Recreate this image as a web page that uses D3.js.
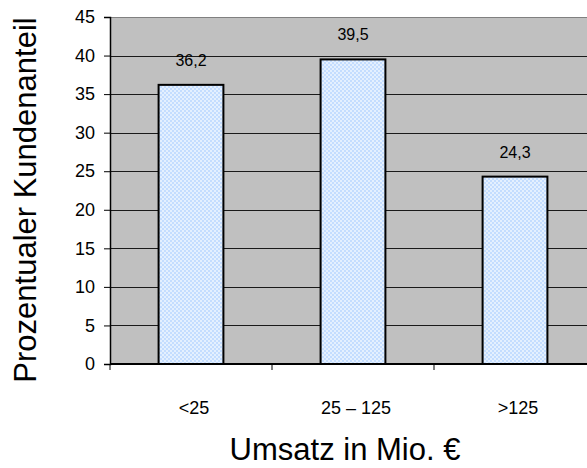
<!DOCTYPE html>
<html>
<head>
<meta charset="utf-8">
<script src="https://cdn.jsdelivr.net/npm/d3@7"></script>
<style>
  body { margin: 0; background: #fff; }
  svg { display: block; font-family: "Liberation Sans", Arial, sans-serif; }
</style>
</head>
<body>
<div id="chart"></div>
<script>
const categories = ['<25', '25 – 125', '>125'];
const shares = [36.2, 39.5, 24.3];
const shareLabels = ['36,2', '39,5', '24,3'];
const yTicks = [0, 5, 10, 15, 20, 25, 30, 35, 40, 45];

const width = 587;
const height = 468;
const plot = { left: 110, right: 596, top: 17, bottom: 364 };

const svg = d3.select('#chart')
  .append('svg')
  .attr('width', width)
  .attr('height', height);

const defs = svg.append('defs');
const pat = defs.append('pattern')
  .attr('id', 'dots')
  .attr('width', 4)
  .attr('height', 4)
  .attr('patternUnits', 'userSpaceOnUse');
pat.append('rect').attr('width', 4).attr('height', 4).attr('fill', '#c4ddff');
pat.append('rect').attr('width', 2).attr('height', 2).attr('fill', '#e4f0ff');
pat.append('rect').attr('x', 2).attr('y', 2).attr('width', 2).attr('height', 2).attr('fill', '#e4f0ff');

const x = d3.scaleBand()
  .domain(categories)
  .range([plot.left, plot.right])
  .paddingInner(0.6)
  .paddingOuter(0.3);

const y = d3.scaleLinear()
  .domain([0, 45])
  .range([plot.bottom, plot.top]);

// plot background
svg.append('rect')
  .attr('x', plot.left)
  .attr('y', plot.top)
  .attr('width', plot.right - plot.left)
  .attr('height', plot.bottom - plot.top)
  .attr('fill', '#c0c0c0');

// gridlines
svg.append('g')
  .selectAll('line')
  .data(yTicks.filter((d) => d > 0))
  .enter()
  .append('line')
  .attr('x1', plot.left)
  .attr('x2', plot.right)
  .attr('y1', (d) => Math.round(y(d)) + 0.5)
  .attr('y2', (d) => Math.round(y(d)) + 0.5)
  .attr('stroke', (d) => d === 45 ? '#808080' : '#1a1a1a')
  .attr('stroke-width', 1);

// bars
svg.append('g')
  .selectAll('rect')
  .data(shares)
  .enter()
  .append('rect')
  .attr('x', (d, i) => x(categories[i]))
  .attr('y', (d) => y(d))
  .attr('width', x.bandwidth())
  .attr('height', (d) => y(0) - y(d))
  .attr('fill', 'url(#dots)')
  .attr('stroke', '#000')
  .attr('stroke-width', 2);

// value labels
svg.append('g')
  .selectAll('text')
  .data(shares)
  .enter()
  .append('text')
  .attr('x', (d, i) => x(categories[i]) + x.bandwidth() / 2)
  .attr('y', (d) => y(d) - 19)
  .attr('text-anchor', 'middle')
  .attr('font-size', '16px')
  .attr('fill', '#000')
  .text((d, i) => shareLabels[i]);

// y axis
const yAxis = svg.append('g')
  .attr('transform', `translate(${plot.left},0)`)
  .call(d3.axisLeft(y).tickValues(yTicks).tickSize(6).tickPadding(9).tickFormat(d3.format('d')));
yAxis.select('.domain').attr('stroke', '#000').attr('stroke-width', 1.5);
yAxis.selectAll('.tick line').attr('stroke', '#000');
yAxis.selectAll('.tick text')
  .attr('font-size', '18px')
  .attr('font-family', '"Liberation Sans", Arial, sans-serif')
  .attr('fill', '#000');

// x axis line + boundary ticks
const xAxis = svg.append('g')
  .attr('transform', `translate(0,${plot.bottom})`);
xAxis.append('line')
  .attr('x1', plot.left)
  .attr('x2', plot.right)
  .attr('stroke', '#000')
  .attr('stroke-width', 2);
xAxis.selectAll('line.tick')
  .data(categories)
  .enter()
  .append('line')
  .attr('class', 'tick')
  .attr('x1', (d) => x(d) - x.step() * x.paddingOuter())
  .attr('x2', (d) => x(d) - x.step() * x.paddingOuter())
  .attr('y1', 0)
  .attr('y2', 6)
  .attr('stroke', '#000');
xAxis.selectAll('text')
  .data(categories)
  .enter()
  .append('text')
  .attr('x', (d) => x(d) + x.bandwidth() / 2 + 3)
  .attr('y', 50)
  .attr('text-anchor', 'middle')
  .attr('font-size', '18px')
  .attr('fill', '#000')
  .text((d) => d);

// axis titles
svg.append('text')
  .attr('transform', 'translate(36,200) rotate(-90)')
  .attr('text-anchor', 'middle')
  .attr('font-size', '31px')
  .attr('fill', '#000')
  .text('Prozentualer Kundenanteil');

svg.append('text')
  .attr('x', 345)
  .attr('y', 460)
  .attr('text-anchor', 'middle')
  .attr('font-size', '31px')
  .attr('fill', '#000')
  .text('Umsatz in Mio. €');
</script>
</body>
</html>
